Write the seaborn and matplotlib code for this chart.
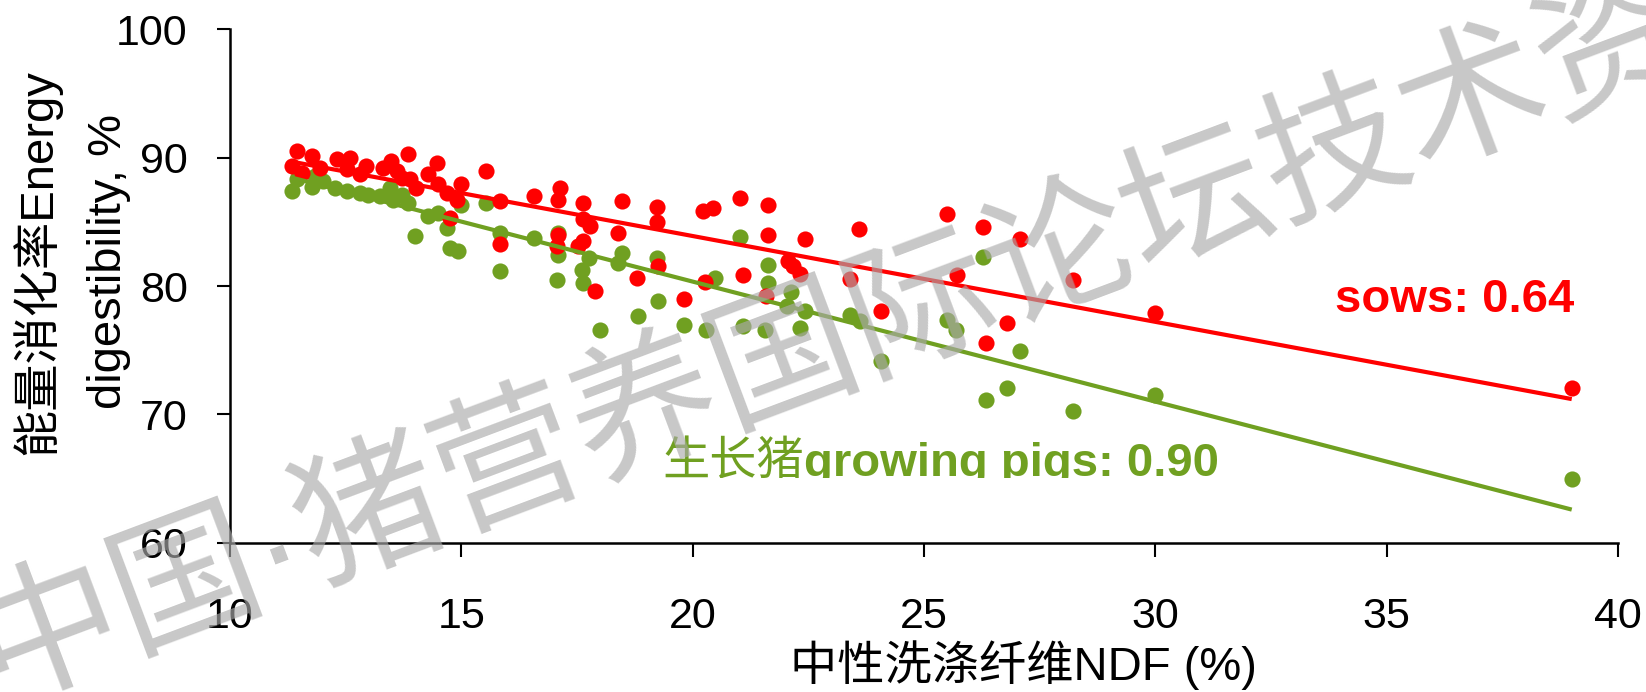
import matplotlib
matplotlib.use("Agg")
import matplotlib.pyplot as plt
from matplotlib.transforms import Bbox, TransformedBbox
import seaborn as sns
import pandas as pd

# NDF (%) and energy digestibility (%) for sows
sows_ndf = [11.45, 11.33, 11.55, 11.77, 11.95, 12.31, 12.59, 12.52, 12.95, 12.81,
            13.31, 13.49, 13.60, 13.85, 13.71, 13.89, 14.03, 14.29, 14.47, 14.50,
            14.68, 14.90, 15.00, 15.53, 15.84, 16.56, 17.13, 17.10, 17.64, 18.47,
            17.64, 17.78, 18.39, 17.10, 17.64, 17.53, 17.06, 15.84, 14.75, 18.80,
            17.89, 19.22, 20.23, 20.45, 21.02, 21.63, 19.23, 21.63, 22.43, 23.60,
            22.07, 22.17, 22.32, 23.40, 19.26, 20.27, 21.09, 21.58, 19.81, 24.08,
            25.49, 26.27, 25.71, 26.80, 26.35, 27.07, 28.21, 30.00, 39.00]
sows_de = [90.50, 89.33, 88.80, 90.10, 89.20, 89.85, 89.98, 89.07, 89.33, 88.68,
           89.20, 89.72, 88.94, 90.24, 88.43, 88.29, 87.65, 88.68, 89.60, 87.90,
           87.26, 86.73, 87.90, 88.94, 86.60, 86.99, 87.65, 86.73, 86.47, 86.60,
           85.18, 84.65, 84.14, 84.00, 83.48, 83.09, 83.09, 83.23, 85.30, 80.60,
           79.60, 86.16, 85.82, 86.09, 86.81, 86.34, 84.98, 83.93, 83.67, 84.45,
           81.93, 81.54, 80.97, 80.55, 81.54, 80.29, 80.83, 79.20, 78.99, 78.03,
           85.57, 84.60, 80.89, 77.12, 75.60, 83.67, 80.50, 77.90, 72.05]

# NDF (%) and energy digestibility (%) for growing pigs
pigs_ndf = [11.33, 11.44, 11.77, 11.84, 12.02, 12.27, 12.52, 12.81, 12.99, 13.24,
            13.46, 13.53, 13.71, 13.85, 14.29, 14.50, 14.68, 14.75, 14.93, 15.00,
            15.53, 15.84, 15.84, 16.56, 17.10, 17.10, 17.06, 17.60, 17.64, 17.75,
            18.39, 18.47, 14.00, 21.02, 19.22, 21.63, 21.63, 20.48, 19.24, 18.82,
            22.12, 22.03, 22.43, 23.40, 23.62, 22.32, 21.56, 21.08, 20.29, 19.81,
            18.00, 24.08, 25.49, 25.70, 26.27, 27.07, 26.80, 26.35, 28.21, 30.00,
            39.00]
pigs_de = [87.38, 88.29, 87.72, 88.55, 88.16, 87.65, 87.38, 87.26, 87.12, 86.99,
           87.65, 86.73, 87.12, 86.47, 85.43, 85.70, 84.53, 82.97, 82.70, 86.34,
           86.47, 84.14, 81.15, 83.75, 84.14, 82.45, 80.50, 81.28, 80.24, 82.19,
           81.80, 82.53, 83.87, 83.83, 82.19, 81.67, 80.24, 80.63, 78.81, 77.64,
           79.54, 78.42, 78.03, 77.77, 77.30, 76.73, 76.60, 76.86, 76.55, 77.00,
           76.60, 74.20, 77.33, 76.60, 82.27, 74.91, 72.10, 71.09, 70.30, 71.53,
           65.00]

# Linear trend lines (end points over the NDF range)
trend_ndf = [11.33, 39.00]
sows_trend = [89.68, 71.20]
pigs_trend = [88.44, 62.60]

x_ticks = [10, 15, 20, 25, 30, 35, 40]
y_ticks = [60, 70, 80, 90, 100]

RED = "#FF0000"
GREEN = "#70A021"

sns.set_theme(style="ticks")
plt.rcParams["font.family"] = ["Liberation Sans", "Noto Sans CJK SC", "DejaVu Sans"]

sows = pd.DataFrame({"ndf": sows_ndf, "de": sows_de})
pigs = pd.DataFrame({"ndf": pigs_ndf, "de": pigs_de})
trend = pd.DataFrame({"ndf": trend_ndf, "sows": sows_trend, "pigs": pigs_trend})

fig = plt.figure(figsize=(16.46, 6.92), dpi=100)
ax = fig.add_axes([0.13973, 0.21532, 0.84326, 0.74277])

for df, key, col in ((pigs, "pigs", GREEN), (sows, "sows", RED)):
    sns.scatterplot(data=df, x="ndf", y="de", ax=ax, color=col, s=135,
                    linewidth=0, zorder=2)
    sns.lineplot(data=trend, x="ndf", y=key, ax=ax, color=col, lw=3,
                 solid_capstyle="butt", zorder=3)

ax.set_xlim(10, 40)
ax.set_ylim(60, 100)
ax.set_xticks(x_ticks)
ax.set_yticks(y_ticks)
ax.tick_params(axis="x", direction="out", length=10, width=1.5, pad=29,
               labelsize=31, colors="black")
ax.tick_params(axis="y", direction="out", length=9.5, width=1.5, pad=21,
               labelsize=31, colors="black")
for side in ("top", "right"):
    ax.spines[side].set_visible(False)
for side in ("left", "bottom"):
    ax.spines[side].set_linewidth(1.8)
    ax.spines[side].set_color("black")
ax.set_facecolor("white")

ax.set_xlabel("中性洗涤纤维NDF (%)", fontsize=34, color="black")
ax.xaxis.set_label_coords(0.572, -0.190)
ax.set_ylabel("能量消化率Energy\ndigestibility, %", fontsize=34, color="black",
              linespacing=1.75)
ax.yaxis.set_label_coords(-0.0713, 0.547)

ax.text(33.88, 78.0, "sows: 0.64", color=RED, fontsize=34, fontweight="bold",
        ha="left", va="baseline")
t1 = ax.text(19.34, 65.3, "生长猪", color=GREEN, fontsize=34,
             ha="left", va="baseline", family=["Noto Sans CJK SC"])
t2 = ax.annotate("growing pigs: 0.90", xy=(1, 0), xycoords=t1, color=GREEN,
                 fontsize=34, fontweight="bold", ha="left", va="bottom")
# the text box cuts the descenders off at the baseline
clip = TransformedBbox(Bbox([[0.0, 1 - 478 / 692], [1.0, 1.0]]), fig.transFigure)
for t in (t1, t2):
    t.set_clip_box(clip)
    t.set_clip_on(True)

# translucent watermark across the figure
fig.text(-0.003, -0.01, "中国·猪营养国际论坛技术资讯", fontsize=106,
         color=(0.667, 0.667, 0.667, 0.65), rotation=20.6,
         rotation_mode="anchor", ha="left", va="baseline",
         family=["Liberation Sans", "Noto Sans CJK SC"], zorder=10)

fig.savefig("out.png", dpi=100, facecolor="white")
